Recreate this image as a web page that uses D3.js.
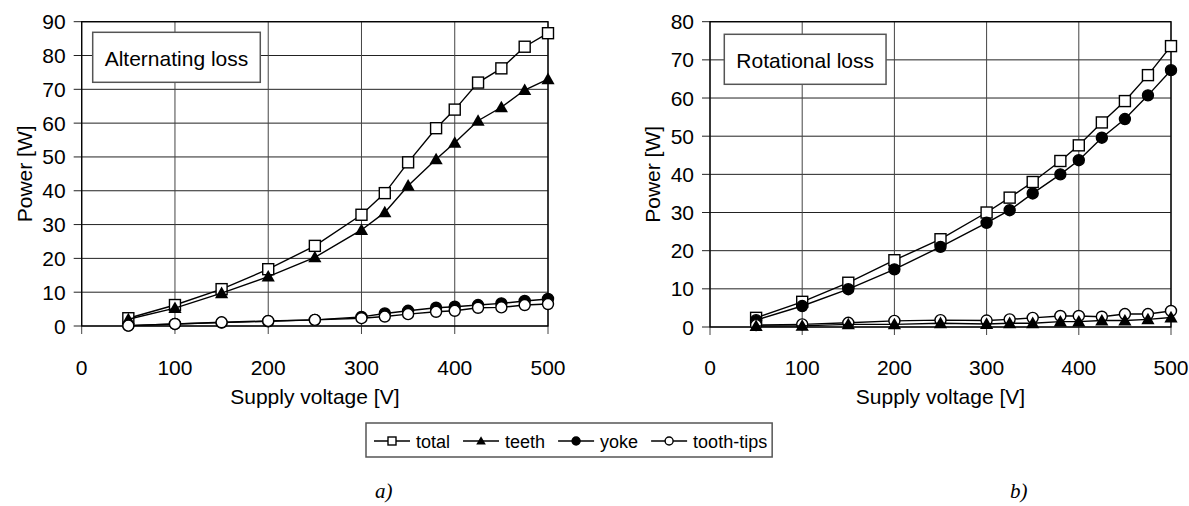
<!DOCTYPE html>
<html>
<head>
<meta charset="utf-8">
<script src="https://cdn.jsdelivr.net/npm/d3@7"></script>
<style>
  body { margin: 0; background: #fff; }
  svg { display: block; font-family: "Liberation Sans", Arial, sans-serif; }
</style>
</head>
<body>
<div class="figure"></div>
<script>
(function() {
  // supply voltage points, same for both plots
  var voltage = [50, 100, 150, 200, 250, 300, 325, 350, 380, 400, 425, 450, 475, 500];

  // a) alternating loss [W]
  var altTotal = [2.3, 6.2, 10.9, 16.8, 23.7, 32.9, 39.3, 48.4, 58.5, 64.0, 72.0, 76.2, 82.6, 86.6];
  var altTeeth = [2.0, 5.3, 9.7, 14.6, 20.3, 28.4, 33.6, 41.5, 49.3, 54.2, 60.7, 64.7, 69.8, 73.0];
  var altYoke  = [0.1, 0.6, 1.0, 1.4, 1.8, 2.7, 3.7, 4.5, 5.4, 5.7, 6.2, 6.7, 7.4, 8.0];
  var altTips  = [0.1, 0.6, 1.1, 1.5, 1.8, 2.3, 2.8, 3.5, 4.2, 4.5, 5.4, 5.5, 6.2, 6.5];

  // b) rotational loss [W]
  var rotTotal = [2.4, 6.6, 11.6, 17.5, 23.0, 30.0, 33.9, 38.0, 43.5, 47.6, 53.6, 59.2, 66.0, 73.6];
  var rotTeeth = [0.25, 0.3, 0.7, 0.7, 1.0, 0.8, 1.0, 1.0, 1.4, 1.4, 1.7, 1.7, 2.0, 2.5];
  var rotYoke  = [1.8, 5.5, 9.9, 15.1, 21.0, 27.3, 30.6, 35.0, 40.0, 43.7, 49.6, 54.5, 60.7, 67.3];
  var rotTips  = [0.5, 0.7, 1.1, 1.6, 1.8, 1.7, 2.0, 2.4, 2.9, 2.9, 2.7, 3.4, 3.4, 4.2];

  var xTicks = [0, 100, 200, 300, 400, 500];
  var legendNames = ['total', 'teeth', 'yoke', 'tooth-tips'];

  var svg = d3.select('.figure')
              .append('svg')
              .attr('width', 1189)
              .attr('height', 506);

  var markerSize = 11;

  var drawMarker = function(g, kind, x, y, size) {
    if (kind === 'total') {
      g.append('rect')
        .attr('x', x - size / 2).attr('y', y - size / 2)
        .attr('width', size).attr('height', size)
        .style('fill', '#fff').style('stroke', '#000').style('stroke-width', 1.4);
    } else if (kind === 'teeth') {
      var s = size * 0.6;
      g.append('path')
        .attr('d', 'M' + x + ',' + (y - s) + 'L' + (x + s) + ',' + (y + s * 0.75) +
                   'L' + (x - s) + ',' + (y + s * 0.75) + 'Z')
        .style('fill', '#000');
    } else {
      g.append('circle')
        .attr('cx', x).attr('cy', y).attr('r', size / 2)
        .style('fill', kind === 'yoke' ? '#000' : '#fff')
        .style('stroke', '#000').style('stroke-width', 1.4);
    }
  };

  var drawChart = function(opt) {
    var x = d3.scaleLinear().domain([0, 500]).range([opt.left, opt.right]);
    var y = d3.scaleLinear().domain([0, opt.yMax]).range([opt.bottom, opt.top]);
    var yTicks = d3.range(0, opt.yMax + 1, 10);
    var g = svg.append('g');

    // grid
    g.selectAll('.hgrid').data(yTicks).enter().append('line')
      .attr('x1', opt.left - 8).attr('x2', opt.right)
      .attr('y1', function(d) { return y(d); })
      .attr('y2', function(d) { return y(d); })
      .style('stroke', '#222').style('stroke-width', 1);
    g.selectAll('.vgrid').data(xTicks).enter().append('line')
      .attr('x1', function(d) { return x(d); })
      .attr('x2', function(d) { return x(d); })
      .attr('y1', opt.top).attr('y2', opt.bottom + 8)
      .style('stroke', '#444').style('stroke-width', 1);

    g.append('rect')
      .attr('x', opt.left).attr('y', opt.top)
      .attr('width', opt.right - opt.left).attr('height', opt.bottom - opt.top)
      .style('fill', 'none').style('stroke', '#000').style('stroke-width', 1.3);

    // tick labels
    g.selectAll('.ylab').data(yTicks).enter().append('text')
      .attr('x', opt.left - 16)
      .attr('y', function(d) { return y(d) + 7.5; })
      .attr('text-anchor', 'end')
      .style('font-size', '21px')
      .text(function(d) { return d; });
    g.selectAll('.xlab').data(xTicks).enter().append('text')
      .attr('x', function(d) { return x(d); })
      .attr('y', 375)
      .attr('text-anchor', 'middle')
      .style('font-size', '21px')
      .text(function(d) { return d; });

    g.append('text')
      .attr('x', (opt.left + opt.right) / 2).attr('y', 404)
      .attr('text-anchor', 'middle').style('font-size', '21px')
      .text('Supply voltage [V]');
    g.append('text')
      .attr('transform', 'translate(' + (opt.left - 50) + ',' + ((opt.top + opt.bottom) / 2) + ') rotate(-90)')
      .attr('text-anchor', 'middle').style('font-size', '21px')
      .text('Power [W]');

    // series: line then markers, in draw order
    var line = d3.line()
      .x(function(d, i) { return x(voltage[i]); })
      .y(function(d) { return y(d); });

    opt.series.forEach(function(s) {
      var sg = g.append('g');
      sg.append('path')
        .attr('d', line(s.values))
        .style('fill', 'none').style('stroke', '#000').style('stroke-width', 1.4);
      s.values.forEach(function(v, i) {
        drawMarker(sg, s.name, x(voltage[i]), y(v), markerSize);
      });
    });

    // caption box
    var box = g.append('g');
    var t = box.append('text')
      .attr('x', opt.boxX + 12).attr('y', opt.boxY + 34)
      .style('font-size', '21px')
      .text(opt.caption);
    var w = t.node().getComputedTextLength();
    box.insert('rect', 'text')
      .attr('x', opt.boxX).attr('y', opt.boxY)
      .attr('width', w + 24).attr('height', 50)
      .style('fill', '#fff').style('stroke', '#555').style('stroke-width', 1.5);
  };

  drawChart({
    left: 81.7, right: 548, top: 21.7, bottom: 326, yMax: 90,
    caption: 'Alternating loss', boxX: 92.7, boxY: 32.3,
    series: [
      { name: 'total', values: altTotal },
      { name: 'teeth', values: altTeeth },
      { name: 'yoke', values: altYoke },
      { name: 'tooth-tips', values: altTips }
    ]
  });

  drawChart({
    left: 710, right: 1171, top: 21.7, bottom: 327, yMax: 80,
    caption: 'Rotational loss', boxX: 724.3, boxY: 34.3,
    series: [
      { name: 'total', values: rotTotal },
      { name: 'yoke', values: rotYoke },
      { name: 'tooth-tips', values: rotTips },
      { name: 'teeth', values: rotTeeth }
    ]
  });

  // legend
  var legend = svg.append('g');
  var cx = 374, ly = 441;
  legendNames.forEach(function(name) {
    legend.append('line')
      .attr('x1', cx).attr('x2', cx + 36).attr('y1', ly).attr('y2', ly)
      .style('stroke', '#000').style('stroke-width', 1.3);
    drawMarker(legend, name, cx + 18, ly, 8);
    var lt = legend.append('text')
      .attr('x', cx + 42).attr('y', ly + 6.5)
      .style('font-size', '18px')
      .text(name);
    cx = cx + 42 + lt.node().getComputedTextLength() + 13;
  });
  legend.insert('rect', ':first-child')
    .attr('x', 366).attr('y', 423)
    .attr('width', cx - 13 + 5 - 366).attr('height', 34)
    .style('fill', '#fff').style('stroke', '#555').style('stroke-width', 1.5);

  svg.append('text')
    .attr('x', 375).attr('y', 498)
    .style('font-family', '"Liberation Serif", "Times New Roman", serif')
    .style('font-style', 'italic').style('font-size', '21px')
    .text('a)');
  svg.append('text')
    .attr('x', 1010).attr('y', 498)
    .style('font-family', '"Liberation Serif", "Times New Roman", serif')
    .style('font-style', 'italic').style('font-size', '21px')
    .text('b)');

}).call(this);
</script>
</body>
</html>
